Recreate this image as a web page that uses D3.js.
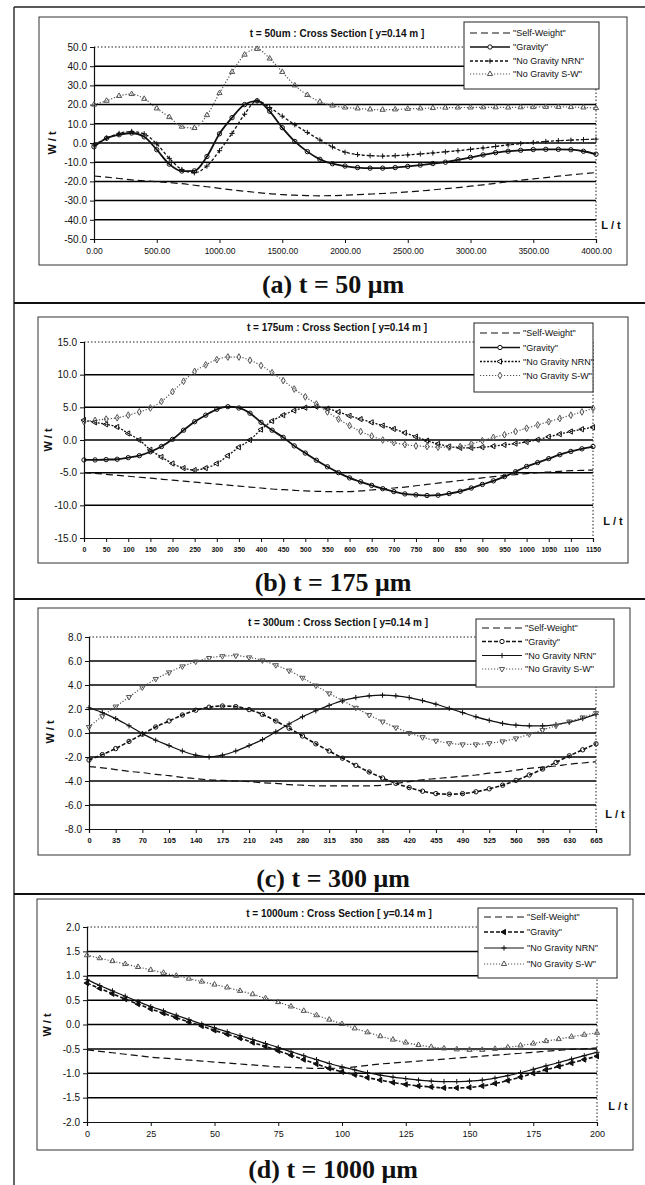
<!DOCTYPE html>
<html>
<head>
<meta charset="utf-8">
<script src="https://cdn.jsdelivr.net/npm/d3@7"></script>
<style>
body { margin: 0; background: #fff; }
text { fill: #111; }
</style>
</head>
<body>
<script>
// ---- data ----
var seriesNames = ['"Self-Weight"', '"Gravity"', '"No Gravity NRN"', '"No Gravity S-W"'];

// (a) t = 50 um
var a_title = "t = 50um : Cross Section [ y=0.14 m ]";
var a_caption = "(a) t = 50 \u03bcm";
var a_L = [0,100,200,300,400,500,600,700,800,900,1000,1100,1200,1300,1400,1500,1600,1700,1800,1900,2000,
  2100,2200,2300,2400,2500,2600,2700,2800,2900,3000,3100,3200,3300,3400,3500,3600,3700,3800,3900,4000];
var a_selfWeight = [-17.2,-17.8,-18.5,-19.2,-19.7,-20.2,-20.6,-21.2,-22.0,-22.8,-23.6,-24.4,-25.1,-25.8,-26.4,-26.9,-27.2,-27.4,-27.5,-27.4,-27.2,
  -26.9,-26.6,-26.3,-25.9,-25.5,-25.0,-24.4,-23.8,-23.2,-22.5,-21.8,-21.0,-20.2,-19.4,-18.7,-18.0,-17.3,-16.6,-16.0,-15.4];
var a_gravity = [-2,2.5,4.3,5.2,3.2,-3.5,-11,-14.6,-14.5,-7,4.8,13.2,20,22,16.5,8,0.8,-4.5,-8.5,-10.8,-12,
  -12.8,-13.1,-13.1,-12.8,-12.2,-11.5,-10.7,-10,-8.8,-7.5,-6.2,-5,-4.3,-3.8,-3.4,-3.3,-3.3,-3.5,-4.3,-5.8];
var a_nrn = [-1,2.5,5,6,4.8,-0.5,-8,-13.8,-15.5,-12,-4,5,15,22,18.5,14,9.5,5.5,1.6,-2,-4.8,
  -6,-6.6,-6.8,-6.6,-6.2,-5.7,-5.2,-4.6,-4,-3.3,-2.6,-1.8,-1,-0.3,0.3,0.8,1.2,1.5,1.8,2];
var a_sw = [20,22,24.5,25.5,23,18,13.5,8.5,7.8,14.5,26,37,46,49,44,37,30,25,21.5,19.5,18.5,
  18,17.5,17.3,17.5,17.8,18,18.2,18.4,18.5,18.5,18.6,18.6,18.5,18.6,18.7,18.8,18.8,18.7,18.5,18.2];
var a_xTicks = [0,500,1000,1500,2000,2500,3000,3500,4000];
var a_yTicks = [-50,-40,-30,-20,-10,0,10,20,30,40,50];

// (b) t = 175 um
var b_title = "t = 175um : Cross Section [ y=0.14 m ]";
var b_caption = "(b) t = 175 \u03bcm";
var b_L = [0,25,50,75,100,125,150,175,200,225,250,275,300,325,350,375,400,425,450,475,500,525,550,575,
  600,625,650,675,700,725,750,775,800,825,850,875,900,925,950,975,1000,1025,1050,1075,1100,1125,1150];
var b_selfWeight = [-5.0,-5.1,-5.25,-5.4,-5.55,-5.7,-5.85,-6.0,-6.15,-6.3,-6.45,-6.6,-6.75,-6.9,-7.05,-7.2,-7.35,-7.5,-7.6,-7.7,-7.8,-7.85,-7.9,-7.9,
  -7.9,-7.8,-7.65,-7.5,-7.35,-7.2,-7.0,-6.8,-6.6,-6.4,-6.2,-6.0,-5.8,-5.6,-5.45,-5.3,-5.15,-5.0,-4.9,-4.8,-4.7,-4.65,-4.6];
var b_gravity = [-3.05,-3.05,-3.0,-2.95,-2.7,-2.4,-1.8,-1.0,0.1,1.5,2.8,3.8,4.7,5.1,4.9,4.1,2.7,1.5,0.4,-0.9,-2.0,-3.1,-4.1,-5.0,
  -5.8,-6.4,-6.95,-7.45,-7.9,-8.25,-8.4,-8.5,-8.45,-8.2,-7.85,-7.35,-6.8,-6.25,-5.6,-4.85,-4.05,-3.45,-2.85,-2.25,-1.75,-1.35,-1.0];
var b_nrn = [3.05,2.7,2.4,2.0,1.0,0.0,-1.5,-2.6,-3.6,-4.3,-4.6,-4.3,-3.6,-2.4,-1.1,0.0,1.6,2.9,3.8,4.5,4.95,5.1,4.8,4.3,
  3.7,3.2,2.7,2.2,1.7,1.1,0.5,-0.1,-0.6,-1.0,-1.2,-1.2,-1.1,-0.95,-0.75,-0.55,-0.3,0.05,0.5,0.9,1.3,1.65,1.95];
var b_sw = [2.8,3.0,3.2,3.4,3.8,4.3,4.9,5.9,7.4,9.0,10.5,11.5,12.3,12.7,12.7,12.2,11.4,10.3,9.1,7.8,6.6,5.5,4.3,3.2,
  2.2,1.3,0.6,0.0,-0.4,-0.7,-0.9,-1.0,-1.1,-1.1,-1.0,-0.6,-0.1,0.4,0.8,1.3,1.8,2.3,2.8,3.3,3.8,4.3,4.85];
var b_xTicks = [0,50,100,150,200,250,300,350,400,450,500,550,600,650,700,750,800,850,900,950,1000,1050,1100,1150];
var b_yTicks = [-15,-10,-5,0,5,10,15];

// (c) t = 300 um
var c_title = "t = 300um : Cross Section [ y=0.14 m ]";
var c_caption = "(c) t = 300 \u03bcm";
var c_L = [0,17.5,35,52.5,70,87.5,105,122.5,140,157.5,175,192.5,210,227.5,245,262.5,280,297.5,315,332.5,
  350,367.5,385,402.5,420,437.5,455,472.5,490,507.5,525,542.5,560,577.5,595,612.5,630,647.5,665];
var c_selfWeight = [-2.8,-2.9,-3.05,-3.2,-3.3,-3.45,-3.55,-3.7,-3.8,-3.9,-3.95,-4.0,-4.05,-4.15,-4.2,-4.3,-4.35,-4.4,-4.4,-4.4,
  -4.4,-4.4,-4.35,-4.2,-4.05,-3.9,-3.8,-3.7,-3.6,-3.5,-3.35,-3.25,-3.1,-2.95,-2.85,-2.75,-2.6,-2.5,-2.4];
var c_gravity = [-2.25,-1.8,-1.3,-0.7,-0.1,0.5,1.0,1.5,1.9,2.15,2.25,2.2,1.95,1.55,1.0,0.4,-0.25,-0.9,-1.5,-2.1,
  -2.7,-3.25,-3.75,-4.2,-4.55,-4.85,-5.05,-5.1,-5.05,-4.9,-4.65,-4.35,-3.95,-3.5,-3.0,-2.45,-1.9,-1.4,-0.9];
var c_nrn = [2.1,1.7,1.2,0.6,-0.05,-0.6,-1.05,-1.5,-1.85,-2.0,-1.85,-1.5,-1.05,-0.55,0.1,0.75,1.35,1.85,2.3,2.7,
  2.95,3.1,3.15,3.1,2.95,2.7,2.4,2.05,1.7,1.35,1.05,0.8,0.65,0.6,0.6,0.7,0.9,1.2,1.55];
var c_sw = [0.5,1.4,2.2,3.0,3.8,4.5,5.05,5.55,5.95,6.25,6.4,6.45,6.3,6.05,5.65,5.2,4.6,3.95,3.3,2.7,
  2.1,1.5,0.95,0.45,0.0,-0.35,-0.65,-0.85,-0.95,-0.95,-0.85,-0.7,-0.45,-0.1,0.25,0.6,0.95,1.3,1.65];
var c_xTicks = [0,35,70,105,140,175,210,245,280,315,350,385,420,455,490,525,560,595,630,665];
var c_yTicks = [-8,-6,-4,-2,0,2,4,6,8];

// (d) t = 1000 um
var d_title = "t = 1000um : Cross Section [ y=0.14 m ]";
var d_caption = "(d) t = 1000 \u03bcm";
var d_L = [0,5,10,15,20,25,30,35,40,45,50,55,60,65,70,75,80,85,90,95,100,
  105,110,115,120,125,130,135,140,145,150,155,160,165,170,175,180,185,190,195,200];
var d_selfWeight = [-0.52,-0.55,-0.58,-0.61,-0.64,-0.67,-0.69,-0.71,-0.73,-0.75,-0.77,-0.79,-0.81,-0.83,-0.85,-0.87,-0.88,-0.89,-0.9,-0.9,-0.89,
  -0.87,-0.84,-0.81,-0.79,-0.77,-0.75,-0.73,-0.71,-0.69,-0.67,-0.65,-0.63,-0.61,-0.59,-0.57,-0.55,-0.53,-0.51,-0.5,-0.48];
var d_gravity = [0.85,0.74,0.63,0.52,0.42,0.32,0.23,0.14,0.05,-0.03,-0.12,-0.2,-0.28,-0.37,-0.45,-0.54,-0.63,-0.72,-0.81,-0.9,-0.97,
  -1.03,-1.09,-1.14,-1.19,-1.23,-1.26,-1.28,-1.3,-1.3,-1.29,-1.26,-1.21,-1.15,-1.08,-1.0,-0.93,-0.86,-0.79,-0.72,-0.65];
var d_nrn = [0.92,0.8,0.69,0.58,0.47,0.37,0.28,0.19,0.1,0.01,-0.07,-0.15,-0.23,-0.31,-0.39,-0.47,-0.56,-0.64,-0.72,-0.8,-0.87,
  -0.93,-0.99,-1.04,-1.08,-1.11,-1.14,-1.16,-1.17,-1.17,-1.16,-1.14,-1.1,-1.05,-0.99,-0.92,-0.85,-0.78,-0.71,-0.64,-0.57];
var d_sw = [1.42,1.36,1.3,1.24,1.18,1.12,1.06,1.0,0.94,0.88,0.82,0.76,0.69,0.62,0.54,0.46,0.37,0.28,0.19,0.1,0.01,
  -0.08,-0.16,-0.24,-0.31,-0.37,-0.42,-0.46,-0.49,-0.51,-0.52,-0.52,-0.5,-0.47,-0.43,-0.39,-0.34,-0.3,-0.25,-0.21,-0.17];
var d_xTicks = [0,25,50,75,100,125,150,175,200];
var d_yTicks = [-2,-1.5,-1,-0.5,0,0.5,1,1.5,2];

// ---- line / marker styles per panel (same order as seriesNames) ----
var styleA = [
  {dash: "7,4", w: 1.2},
  {dash: null, w: 1.8, marker: "circle"},
  {dash: "3,2", w: 1.3, marker: "plus"},
  {dash: "1.2,1.8", w: 1.2, marker: "triUp", color: "#555"}
];
var styleB = [
  {dash: "7,4", w: 1.2},
  {dash: null, w: 1.8, marker: "circle"},
  {dash: "2,1.5", w: 1.3, marker: "triLeft"},
  {dash: "1.2,1.8", w: 1.2, marker: "diamond", color: "#555"}
];
var styleC = [
  {dash: "7,4", w: 1.2},
  {dash: "4,2", w: 1.6, marker: "circle"},
  {dash: null, w: 1.2, marker: "plus"},
  {dash: "1.2,1.8", w: 1.2, marker: "triDown", color: "#555"}
];
var styleD = [
  {dash: "7,4", w: 1.2},
  {dash: "4,2", w: 1.6, marker: "triLeftFill"},
  {dash: null, w: 1.2, marker: "plus"},
  {dash: "1.2,1.8", w: 1.2, marker: "triUp", color: "#555"}
];

var panels = [
  {title: a_title, caption: a_caption, L: a_L, series: [a_selfWeight, a_gravity, a_nrn, a_sw],
   xTicks: a_xTicks, yTicks: a_yTicks, xFormat: d3.format(".2f"), styles: styleA,
   box: [39,17,627,265], plot: [94,47,596,239], titleY: 33,
   legend: [464,22,135,67], rows: [11,25,39,52], xFont: 8.5, xBold: false,
   wt: [52,143], lt: [611,225], capY: 293},
  {title: b_title, caption: b_caption, L: b_L, series: [b_selfWeight, b_gravity, b_nrn, b_sw],
   xTicks: b_xTicks, yTicks: b_yTicks, xFormat: d3.format("d"), styles: styleB,
   box: [38,317,628,563], plot: [84,342,593,538], titleY: 327,
   legend: [474,323,119,69], rows: [10,24.5,38.5,52.5], xFont: 7, xBold: true,
   wt: [48,440], lt: [613,521], capY: 591},
  {title: c_title, caption: c_caption, L: c_L, series: [c_selfWeight, c_gravity, c_nrn, c_sw],
   xTicks: c_xTicks, yTicks: c_yTicks, xFormat: d3.format("d"), styles: styleC,
   box: [38,608,630,855], plot: [89,637,596,829], titleY: 622,
   legend: [476,619,138,68], rows: [9,22.5,36.5,50], xFont: 7.5, xBold: true,
   wt: [50,732], lt: [615,814], capY: 887},
  {title: d_title, caption: d_caption, L: d_L, series: [d_selfWeight, d_gravity, d_nrn, d_sw],
   xTicks: d_xTicks, yTicks: d_yTicks, xFormat: d3.format("d"), styles: styleD,
   box: [37,899,633,1150], plot: [87,927,597,1122], titleY: 913,
   legend: [478,908,139,70], rows: [9,24,40,56], xFont: 9, xBold: false,
   wt: [47,1025], lt: [618,1106], capY: 1178}
];

var sansFont = "'Liberation Sans', Arial, sans-serif";
var serifFont = "'Liberation Serif', 'Times New Roman', serif";

var W = 645, H = 1185;
var svg = d3.select("body").append("svg").attr("width", W).attr("height", H)
  .style("font-family", sansFont);
svg.append("rect").attr("width", W).attr("height", H).attr("fill", "#fff");

// outer frame: top + left, and separators between panels
svg.append("line").attr("x1", 14).attr("y1", 7).attr("x2", W).attr("y2", 7)
  .attr("stroke", "#222").attr("stroke-width", 1.5);
svg.append("line").attr("x1", 14).attr("y1", 7).attr("x2", 14).attr("y2", H)
  .attr("stroke", "#333").attr("stroke-width", 1.5);
[303, 599, 894].forEach(function(yy){
  svg.append("line").attr("x1", 14).attr("y1", yy).attr("x2", W).attr("y2", yy)
    .attr("stroke", "#111").attr("stroke-width", 2);
});

function markerPath(type){
  if (type == "circle") return d3.symbol(d3.symbolCircle, 15)();
  if (type == "plus") return "M-2.6,0H2.6M0,-2.6V2.6";
  if (type == "diamond") return d3.symbol(d3.symbolDiamond, 13)();
  return d3.symbol(d3.symbolTriangle, 12)();
}
function markerRot(type){
  if (type == "triDown") return 180;
  if (type == "triLeft" || type == "triLeftFill") return -90;
  return 0;
}

function drawPanel(p){
  var g = svg.append("g");
  g.append("rect").attr("x", p.box[0]).attr("y", p.box[1])
    .attr("width", p.box[2] - p.box[0]).attr("height", p.box[3] - p.box[1])
    .attr("fill", "none").attr("stroke", "#333").attr("stroke-width", 1);

  var x = d3.scaleLinear().domain([p.xTicks[0], p.xTicks[p.xTicks.length - 1]]).range([p.plot[0], p.plot[2]]);
  var y = d3.scaleLinear().domain([p.yTicks[0], p.yTicks[p.yTicks.length - 1]]).range([p.plot[3], p.plot[1]]);

  // gridlines (inner ticks solid, top dotted)
  g.append("g").selectAll("line").data(p.yTicks.slice(1, -1)).enter().append("line")
    .attr("x1", p.plot[0]).attr("x2", p.plot[2])
    .attr("y1", function(d){ return y(d); }).attr("y2", function(d){ return y(d); })
    .attr("stroke", "#000").attr("stroke-width", 1.5);
  g.append("line").attr("x1", p.plot[0]).attr("x2", p.plot[2])
    .attr("y1", p.plot[1]).attr("y2", p.plot[1])
    .attr("stroke", "#222").attr("stroke-width", 1).attr("stroke-dasharray", "1.5,2");
  g.append("line").attr("x1", p.plot[2]).attr("x2", p.plot[2])
    .attr("y1", p.plot[1]).attr("y2", p.plot[3])
    .attr("stroke", "#222").attr("stroke-width", 1).attr("stroke-dasharray", "1.5,2");

  // axes
  var yAxis = d3.axisLeft(y).tickValues(p.yTicks).tickSize(4).tickPadding(3)
    .tickFormat(function(d){ return d3.format(".1f")(d).replace("\u2212", "-"); });
  var ya = g.append("g").attr("transform", "translate(" + p.plot[0] + ",0)").call(yAxis);
  ya.attr("font-family", null).attr("font-size", null);
  ya.select(".domain").attr("stroke", "#111").attr("stroke-width", 1.2);
  ya.selectAll("line").attr("stroke", "#111");
  ya.selectAll("text").attr("font-size", 10).attr("fill", "#111");

  var xAxis = d3.axisBottom(x).tickValues(p.xTicks).tickSize(4).tickPadding(5)
    .tickFormat(p.xFormat);
  var xa = g.append("g").attr("transform", "translate(0," + p.plot[3] + ")").call(xAxis);
  xa.attr("font-family", null).attr("font-size", null);
  xa.select(".domain").attr("stroke", "#111").attr("stroke-width", 1.2);
  xa.selectAll("line").attr("stroke", "#111");
  xa.selectAll("text").attr("font-size", p.xFont).attr("font-weight", p.xBold ? "bold" : "normal")
    .attr("fill", "#111");

  // series
  p.series.forEach(function(vals, si){
    var st = p.styles[si];
    var col = st.color || "#111";
    var pts = p.L.map(function(l, i){ return [l, vals[i]]; });
    var line = d3.line().x(function(d){ return x(d[0]); }).y(function(d){ return y(d[1]); })
      .curve(d3.curveMonotoneX);
    g.append("path").datum(pts).attr("d", line).attr("fill", "none")
      .attr("stroke", col).attr("stroke-width", st.w)
      .attr("stroke-dasharray", st.dash);
    if (st.marker) {
      g.append("g").selectAll("path").data(pts).enter().append("path")
        .attr("d", markerPath(st.marker))
        .attr("transform", function(d){
          return "translate(" + x(d[0]) + "," + y(d[1]) + ") rotate(" + markerRot(st.marker) + ")";
        })
        .attr("fill", st.marker == "triLeftFill" ? col : "none")
        .attr("stroke", col).attr("stroke-width", 1);
    }
  });

  // title
  g.append("text").attr("x", (p.box[0] + p.box[2]) / 2 + 4).attr("y", p.titleY).attr("dy", "0.35em")
    .attr("text-anchor", "middle").attr("font-size", 10).attr("font-weight", "bold").text(p.title);

  // axis names
  g.append("text").attr("transform", "translate(" + p.wt[0] + "," + p.wt[1] + ") rotate(-90)")
    .attr("text-anchor", "middle").attr("dy", "0.35em")
    .attr("font-size", 11).attr("font-weight", "bold").text("W / t");
  g.append("text").attr("x", p.lt[0]).attr("y", p.lt[1]).attr("dy", "0.35em")
    .attr("text-anchor", "middle").attr("font-size", 11).attr("font-weight", "bold").text("L / t");

  // legend
  var lg = g.append("g").attr("transform", "translate(" + p.legend[0] + "," + p.legend[1] + ")");
  lg.append("rect").attr("width", p.legend[2]).attr("height", p.legend[3])
    .attr("fill", "#fff").attr("stroke", "#222").attr("stroke-width", 1);
  seriesNames.forEach(function(name, si){
    var st = p.styles[si];
    var col = st.color || "#111";
    var ry = p.rows[si];
    lg.append("line").attr("x1", 6).attr("x2", 46).attr("y1", ry).attr("y2", ry)
      .attr("stroke", col).attr("stroke-width", Math.min(st.w, 1.4)).attr("stroke-dasharray", st.dash);
    if (st.marker) {
      lg.append("path").attr("d", markerPath(st.marker))
        .attr("transform", "translate(26," + ry + ") rotate(" + markerRot(st.marker) + ")")
        .attr("fill", st.marker == "triLeftFill" ? col : "#fff")
        .attr("stroke", col).attr("stroke-width", 1);
    }
    lg.append("text").attr("x", 49).attr("y", ry).attr("dy", "0.35em")
      .attr("font-size", 9).text(name);
  });

  // caption under the chart
  svg.append("text").attr("x", 333).attr("y", p.capY).attr("text-anchor", "middle")
    .style("font-family", serifFont).attr("font-weight", "bold")
    .attr("font-size", 26).text(p.caption);
}

panels.forEach(drawPanel);
</script>
</body>
</html>
